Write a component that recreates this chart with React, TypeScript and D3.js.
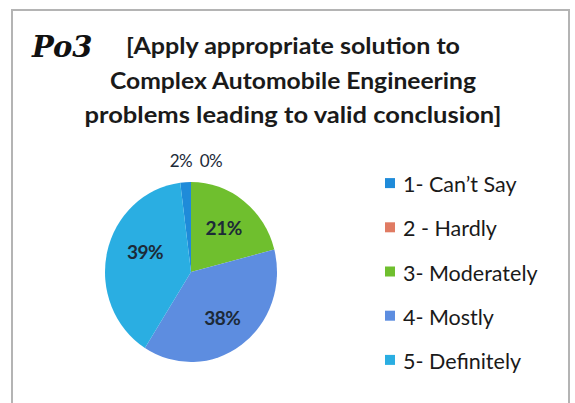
import * as React from 'react';
import * as d3 from 'd3';

const WIDTH = 575;
const HEIGHT = 403;

const categories = ['1- Can\u2019t Say', '2 - Hardly', '3- Moderately', '4- Mostly', '5- Definitely'];
const values = [2, 0, 21, 38, 39];
const colors = ['#1f8bd9', '#e07b63', '#6fbf2e', '#5d8de0', '#2aaee2'];
const titleLines = [
  '[Apply appropriate solution to',
  'Complex Automobile Engineering',
  'problems leading to valid conclusion]',
];

const CX = 191;
const CY = 272;
const RX = 86;
const RY = 90;

const pie = d3
  .pie<number>()
  .sort(null)
  .value(d => d)
  .startAngle((-values[0] / 100) * 2 * Math.PI)
  .endAngle(2 * Math.PI - (values[0] / 100) * 2 * Math.PI);

export default function App() {
  const arcs = pie(values);
  const arc = d3.arc<d3.PieArcDatum<number>>().innerRadius(0).outerRadius(RX);
  const labelArc = d3.arc<d3.PieArcDatum<number>>().innerRadius(RX * 0.62).outerRadius(RX * 0.62);
  const sy = RY / RX;

  // big slices get labels inside, the tiny ones sit above the pie
  const labelPos = (d: d3.PieArcDatum<number>, i: number) => {
    if (d.value < 5) return [i === 0 ? 181 : 211, 160];
    const [x, y] = labelArc.centroid(d);
    return [CX + x + (i === 4 ? 6 : 0), CY + y * sy - (i === 4 ? 8 : 0)];
  };

  const legend = d3.scaleBand().domain(categories).range([161, 382]);

  return (
    <svg width={WIDTH} height={HEIGHT} style={{ position: 'absolute', left: 0, top: 0 }}>
      <rect width={WIDTH} height={HEIGHT} fill="#fff" />
      <path d={`M12,${HEIGHT} V10 H569 V${HEIGHT}`} fill="none" stroke="#b4b4b4" strokeWidth={2} />
      <text x={32} y={57} fontFamily="DejaVu Serif" fontStyle="italic" fontWeight="bold" fontSize={29} fill="#111">
        Po3
      </text>
      {titleLines.map((t, i) => (
        <text
          key={t}
          x={293}
          y={54 + i * 34.5}
          textAnchor="middle"
          fontFamily="Lato"
          fontWeight="bold"
          fontSize={23}
          fill="#1a1a1a"
          textLength={[334, 366, 417][i]}
          lengthAdjust="spacingAndGlyphs"
        >
          {t}
        </text>
      ))}
      <g transform={`translate(${CX},${CY}) scale(1,${sy})`}>
        {arcs.map((d, i) => (
          <path key={i} d={arc(d) || ''} fill={colors[i]} />
        ))}
      </g>
      {arcs.map((d, i) => {
        const [x, y] = labelPos(d, i);
        const small = d.value < 5;
        return (
          <text
            key={i}
            x={x}
            y={y}
            textAnchor="middle"
            dominantBaseline="central"
            fontFamily="Lato"
            fontWeight={small ? 'normal' : 'bold'}
            fontSize={small ? 17 : 19}
            fill="#1c2a38"
            letterSpacing={-0.5}
          >
            {d.value}%
          </text>
        );
      })}
      {categories.map((c, i) => {
        const y = (legend(c) as number) + legend.bandwidth() / 2;
        return (
          <g key={c}>
            <rect x={385} y={y - 5} width={10} height={10} fill={colors[i]} />
            <text x={403} y={y + 1} dominantBaseline="central" fontFamily="Lato" fontSize={21.5} fill="#1a1a1a">
              {c}
            </text>
          </g>
        );
      })}
    </svg>
  );
}
